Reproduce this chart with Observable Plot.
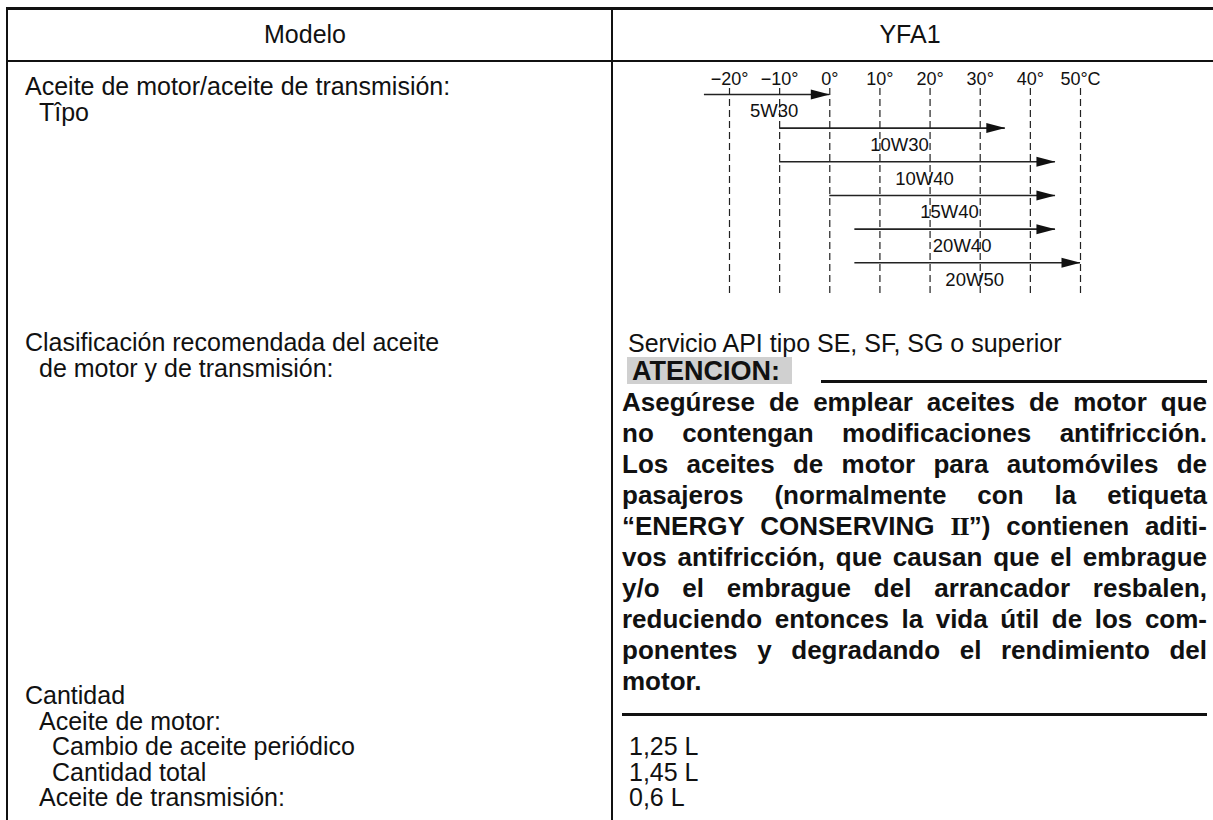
<!DOCTYPE html>
<html>
<head>
<meta charset="utf-8">
<script src="https://cdn.jsdelivr.net/npm/d3@7"></script>
<script src="https://cdn.jsdelivr.net/npm/@observablehq/plot@0.6"></script>
<style>
html, body { margin: 0; padding: 0; background: #fff; }
#page { position: relative; width: 1213px; height: 820px; overflow: hidden;
  font-family: "Liberation Sans", Arial, Helvetica, sans-serif; color: #111; }
.t { position: absolute; white-space: nowrap; font-size: 25px; line-height: 30px; height: 30px; }
.blk { position: absolute; white-space: nowrap; font-size: 25px; line-height: 25.5px; }
.blk span { display: block; }
.ln { position: absolute; background: #111; }
.para { position: absolute; left: 622px; width: 585px; font-weight: bold; font-size: 26px; line-height: 31px; }
.para span { display: block; text-align: justify; text-align-last: justify; }
.para span.last { text-align-last: left; }
.serif { font-family: "Liberation Serif", "DejaVu Serif", serif; letter-spacing: -1px; display: inline !important; }
#chart { position: absolute; left: 690px; top: 62px; }
</style>
</head>
<body>
<div id="page"></div>
<script>
// ---- chart data ----
const oils = ["5W30", "10W30", "10W40", "15W40", "20W40", "20W50"];
const lowTemp = [-25, -10, -10, 0, 5, 5];
const highTemp = [0, 35, 45, 45, 45, 50];
const tempTicks = [-20, -10, 0, 10, 20, 30, 40, 50];
const tickLabels = ["\u221220°", "\u221210°", "0°", "10°", "20°", "30°", "40°", "50°C"];

// ---- table text ----
const headerCells = ["Modelo", "YFA1"];
const oilTypeLabels = ["Aceite de motor/aceite de transmisión:", "Tîpo"];
const classLabels = ["Clasificación recomendada del aceite", "de motor y de transmisión:"];
const quantityLabels = ["Cantidad", "Aceite de motor:", "Cambio de aceite periódico", "Cantidad total", "Aceite de transmisión:"];
const apiService = "Servicio API tipo SE, SF, SG o superior";
const cautionTitle = "ATENCION:";
const cautionLines = [
  "Asegúrese de emplear aceites de motor que",
  "no contengan modificaciones antifricción.",
  "Los aceites de motor para automóviles de",
  "pasajeros (normalmente con la etiqueta",
  "“ENERGY CONSERVING <span class=\"serif\">II</span>”) contienen aditi-",
  "vos antifricción, que causan que el embrague",
  "y/o el embrague del arrancador resbalen,",
  "reduciendo entonces la vida útil de los com-",
  "ponentes y degradando el rendimiento del",
  "motor."
];
const quantities = ["", "", "1,25 L", "1,45 L", "0,6 L"];

// ---- layout ----
const page = document.getElementById("page");
function line(x, y, w, h) {
  const d = document.createElement("div");
  d.className = "ln";
  Object.assign(d.style, {left: x + "px", top: y + "px", width: w + "px", height: h + "px"});
  page.appendChild(d);
  return d;
}
function text(str, x, cy, opts = {}) {
  const d = document.createElement("div");
  d.className = "t";
  d.textContent = str;
  d.style.left = x + "px";
  d.style.top = (cy - 15) + "px";
  if (opts.center) { d.style.transform = "translateX(-50%)"; }
  if (opts.bold) d.style.fontWeight = "bold";
  if (opts.size) d.style.fontSize = opts.size + "px";
  page.appendChild(d);
  return d;
}
function block(lines, indents, x, cyFirst) {
  const d = document.createElement("div");
  d.className = "blk";
  d.style.left = x + "px";
  d.style.top = (cyFirst - 12.75) + "px";
  lines.forEach((s, i) => {
    const sp = document.createElement("span");
    sp.textContent = s || "\u00a0";
    sp.style.paddingLeft = (indents[i] || 0) + "px";
    d.appendChild(sp);
  });
  page.appendChild(d);
  return d;
}

// frame lines
line(6, 7, 1207, 3);      // top border
line(6, 7, 2, 813);       // left border
line(6, 60, 1207, 1.5);   // header bottom
line(611, 7, 1.5, 813);   // column divider

// header
text(headerCells[0], 305, 34, {center: true});
text(headerCells[1], 910, 34, {center: true});

// left column
block(oilTypeLabels, [0, 14], 25, 87);
block(classLabels, [0, 14], 25, 343);
block(quantityLabels, [0, 14, 27, 27, 14], 25, 696);

// right column text
text(apiService, 628, 343);
const box = document.createElement("div");
Object.assign(box.style, {position: "absolute", left: "627px", top: "357px", width: "165px", height: "27px", background: "#d0d0d0"});
page.appendChild(box);
text(cautionTitle, 632, 371, {bold: true, size: 27});
line(821, 380, 386, 2.5);

const para = document.createElement("div");
para.className = "para";
para.style.top = (402 - 15.5) + "px";
para.innerHTML = cautionLines.map((l, i) => `<span${i === cautionLines.length - 1 ? ' class="last"' : ''}>${l}</span>`).join("");
page.appendChild(para);
line(622, 713, 585, 3);

block(quantities, [0, 0, 0, 0, 0], 629, 696);

// ---- chart (Observable Plot) ----
const rows = oils.map((name, i) => ({name, i, lo: lowTemp[i], hi: highTemp[i]}));
const arrowHead = {
  draw(ctx) {
    ctx.moveTo(0, 0);
    ctx.lineTo(-19, -5);
    ctx.lineTo(-19, 5);
    ctx.closePath();
  }
};
const chart = Plot.plot({
  width: 420,
  height: 236,
  marginLeft: 39,
  marginRight: 30,
  marginTop: 26,
  marginBottom: 2,
  x: {domain: [-20, 50], axis: null},
  y: {domain: [-0.176, 6], reverse: true, axis: null},
  style: {fontFamily: "Liberation Sans, Arial, sans-serif", fontSize: "18px", color: "#111", background: "transparent", overflow: "visible"},
  marks: [
    Plot.ruleX(tempTicks, {x: d => d, stroke: "#222", strokeWidth: 1.2, strokeDasharray: "7,4"}),
    Plot.axisX(tempTicks, {anchor: "top", tickSize: 0, tickPadding: 4, fontSize: 18, fill: "#111",
      tickFormat: d => tickLabels[tempTicks.indexOf(d)]}),
    Plot.ruleY(rows, {y: "i", x1: "lo", x2: "hi", stroke: "#222", strokeWidth: 1.6}),
    Plot.dot(rows, {x: "hi", y: "i", symbol: arrowHead, r: 4, fill: "#111", stroke: "none"}),
    Plot.text(rows, {x: d => (d.lo + d.hi) / 2, y: d => d.i + 0.5, text: "name", dx: 7, fontSize: 18.5, fill: "#111"})
  ]
});
chart.id = "chart";
page.appendChild(chart);
</script>
</body>
</html>
